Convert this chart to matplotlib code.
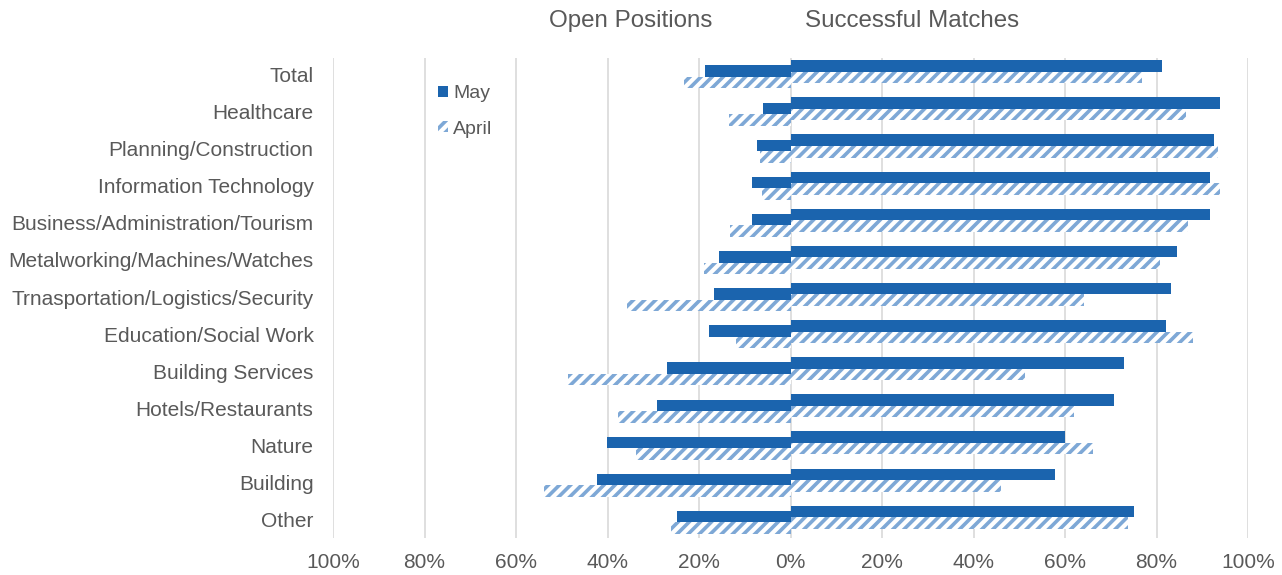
import matplotlib.pyplot as plt
import numpy as np
from matplotlib.patches import Patch

plt.rcParams['font.family'] = ['Liberation Sans', 'DejaVu Sans']
plt.rcParams['hatch.linewidth'] = 2.6

categories = ["Total", "Healthcare", "Planning/Construction", "Information Technology",
              "Business/Administration/Tourism", "Metalworking/Machines/Watches",
              "Trnasportation/Logistics/Security", "Education/Social Work",
              "Building Services", "Hotels/Restaurants", "Nature", "Building", "Other"]

# open positions (shown to the left), percent
open_may = [18.6, 6.0, 7.4, 8.4, 8.5, 15.6, 16.7, 17.9, 27.0, 29.3, 40.2, 42.3, 24.9]
open_april = [23.3, 13.4, 6.7, 6.2, 13.3, 19.0, 35.8, 12.0, 48.7, 37.8, 33.8, 53.8, 26.2]

# successful matches (shown to the right), percent
match_may = [81.3, 93.8, 92.5, 91.6, 91.6, 84.5, 83.2, 82.0, 72.9, 70.8, 60.0, 57.9, 75.0]
match_april = [76.8, 86.5, 93.5, 93.8, 86.8, 80.8, 64.2, 87.9, 51.3, 62.0, 66.2, 46.1, 73.8]

xticks = [-100, -80, -60, -40, -20, 0, 20, 40, 60, 80, 100]

blue = '#1B64AE'
hatch_col = '#7EA8D6'
grey = '#595959'

fig = plt.figure(figsize=(12.82, 5.75), dpi=100)
ax = fig.add_axes([0.2598, 0.0643, 0.7137, 0.8348])

y = np.arange(len(categories))
h = 0.31
shift = 0.07

ax.barh(y - h/2 - shift, match_may, height=h, color=blue, zorder=3)
ax.barh(y + h/2 - shift, match_april, height=h, color='white', edgecolor=hatch_col,
        hatch='///', linewidth=0, zorder=3)
ax.barh(y - h/2 + shift, -np.array(open_may), height=h, color=blue, zorder=3)
ax.barh(y + h/2 + shift, -np.array(open_april), height=h, color='white', edgecolor=hatch_col,
        hatch='///', linewidth=0, zorder=3)

ax.set_xlim(-100, 100)
ax.set_ylim(12.49, -0.44)
ax.set_xticks(xticks)
ax.set_xticklabels([f"{abs(v)}%" for v in xticks])
ax.set_yticks(y)
ax.set_yticklabels(categories)
ax.tick_params(axis='both', length=0, colors=grey, labelsize=15)
ax.tick_params(axis='y', pad=14)
ax.tick_params(axis='x', pad=11)
ax.grid(axis='x', color='#D9D9D9', linewidth=1.2, zorder=0)
for s in ax.spines.values():
    s.set_visible(False)

fig.text(631/1282, 1 - 21/575, "Open Positions", ha='center', va='center', fontsize=17.4, color=grey)
fig.text(912/1282, 1 - 21/575, "Successful Matches", ha='center', va='center', fontsize=17.4, color=grey)

handles = [Patch(facecolor=blue, edgecolor=blue, linewidth=0),
           Patch(facecolor='white', edgecolor=hatch_col, hatch='///', linewidth=0)]
ax.legend(handles, ["May", "April"], loc='upper left', bbox_to_anchor=(0.096, 0.98),
          frameon=False, fontsize=14, handlelength=0.5, handleheight=0.5,
          handletextpad=0.25, labelspacing=0.95, labelcolor=grey)

fig.savefig("out.png", dpi=100)
